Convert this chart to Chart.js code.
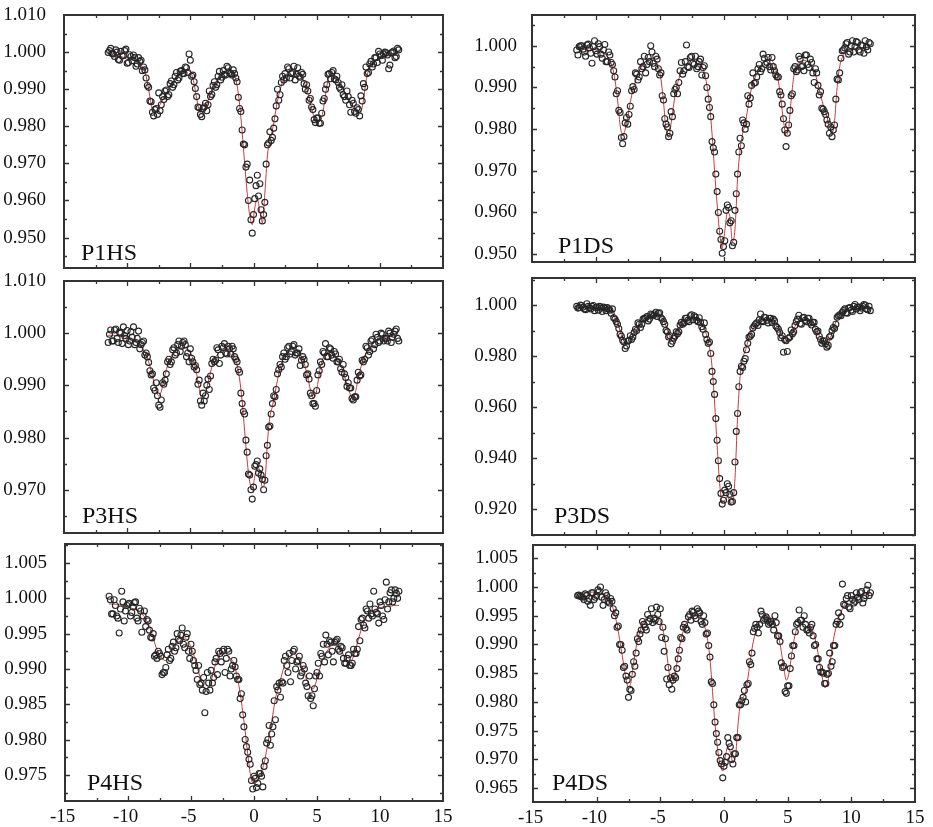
<!DOCTYPE html>
<html lang="en">
<head>
<meta charset="UTF-8">
<title>Mössbauer spectra P1-P4</title>
<script src="https://cdn.jsdelivr.net/npm/chart.js@4"></script>
<style>
  body { margin: 0; background: #fff; }
  #page { position: relative; width: 933px; height: 827px; overflow: hidden; }
  #page canvas { position: absolute; }
</style>
</head>
<body>
<div id="page"></div>
<script>
// velocity channels (mm/s), shared by all six spectra
const velocity = [
  -11.5,-11.3,-11.1,-10.9,-10.7,-10.5,-10.3,-10.1,-9.9,-9.7,
  -9.5,-9.3,-9.1,-8.9,-8.7,-8.5,-8.3,-8.1,-7.9,-7.7,
  -7.5,-7.3,-7.1,-6.9,-6.7,-6.5,-6.3,-6.1,-5.9,-5.7,
  -5.5,-5.3,-5.1,-4.9,-4.7,-4.5,-4.3,-4.1,-3.9,-3.7,
  -3.5,-3.3,-3.1,-2.9,-2.7,-2.5,-2.3,-2.1,-1.9,-1.7,
  -1.5,-1.3,-1.1,-0.9,-0.7,-0.5,-0.3,-0.1,0.1,0.3,
  0.5,0.7,0.9,1.1,1.3,1.5,1.7,1.9,2.1,2.3,
  2.5,2.7,2.9,3.1,3.3,3.5,3.7,3.9,4.1,4.3,
  4.5,4.7,4.9,5.1,5.3,5.5,5.7,5.9,6.1,6.3,
  6.5,6.7,6.9,7.1,7.3,7.5,7.7,7.9,8.1,8.3,
  8.5,8.7,8.9,9.1,9.3,9.5,9.7,9.9,10.1,10.3,
  10.5,10.7,10.9,11.1,11.3,11.5
];
// the in-between channels (second half of the folded spectrum)
const velocityMid = [
  -11.4,-11.2,-11.0,-10.8,-10.6,-10.4,-10.2,-10.0,-9.8,-9.6,
  -9.4,-9.2,-9.0,-8.8,-8.6,-8.4,-8.2,-8.0,-7.8,-7.6,
  -7.4,-7.2,-7.0,-6.8,-6.6,-6.4,-6.2,-6.0,-5.8,-5.6,
  -5.4,-5.2,-5.0,-4.8,-4.6,-4.4,-4.2,-4.0,-3.8,-3.6,
  -3.4,-3.2,-3.0,-2.8,-2.6,-2.4,-2.2,-2.0,-1.8,-1.6,
  -1.4,-1.2,-1.0,-0.8,-0.6,-0.4,-0.2,0.0,0.2,0.4,
  0.6,0.8,1.0,1.2,1.4,1.6,1.8,2.0,2.2,2.4,
  2.6,2.8,3.0,3.2,3.4,3.6,3.8,4.0,4.2,4.4,
  4.6,4.8,5.0,5.2,5.4,5.6,5.8,6.0,6.2,6.4,
  6.6,6.8,7.0,7.2,7.4,7.6,7.8,8.0,8.2,8.4,
  8.6,8.8,9.0,9.2,9.4,9.6,9.8,10.0,10.2,10.4,
  10.6,10.8,11.0,11.2,11.4
];

const xTicks = [-15, -10, -5, 0, 5, 10, 15];

// ---- P1HS ----
const p1hsTicks = [0.950, 0.960, 0.970, 0.980, 0.990, 1.000, 1.010];
const p1hsCounts = [
  0.9999,1.0010,0.9995,1.0006,0.9980,1.0002,0.9990,1.0008,0.9972,0.9988,
  0.9992,0.9962,0.9985,0.9978,0.9960,0.9930,0.9905,0.9866,0.9828,0.9848,
  0.9890,0.9858,0.9872,0.9898,0.9885,0.9922,0.9912,0.9945,0.9930,0.9950,
  0.9942,0.9958,0.9995,0.9935,0.9920,0.9880,0.9850,0.9826,0.9852,0.9842,
  0.9895,0.9886,0.9920,0.9912,0.9948,0.9932,0.9940,0.9962,0.9945,0.9938,
  0.9942,0.9920,0.9848,0.9790,0.9750,0.9698,0.9655,0.9512,0.9605,0.9668,
  0.9645,0.9545,0.9595,0.9750,0.9785,0.9770,0.9820,0.9900,0.9885,0.9935,
  0.9942,0.9960,0.9930,0.9945,0.9925,0.9958,0.9932,0.9940,0.9900,0.9895,
  0.9875,0.9845,0.9810,0.9822,0.9808,0.9868,0.9900,0.9940,0.9928,0.9950,
  0.9925,0.9918,0.9900,0.9885,0.9870,0.9880,0.9838,0.9862,0.9835,0.9845,
  0.9882,0.9915,0.9960,0.9945,0.9975,0.9968,0.9985,1.0002,0.9990,0.9995,
  0.9998,0.9955,0.9998,1.0003,0.9988,1.0006
];
const p1hsCountsMid = [
  1.0004,0.9996,0.9988,1.0000,0.9978,0.9990,1.0004,0.9970,0.9993,0.9977,
  0.9985,0.9968,0.9975,0.9950,0.9952,0.9910,0.9868,0.9838,0.9845,0.9832,
  0.9842,0.9880,0.9895,0.9880,0.9915,0.9905,0.9935,0.9925,0.9948,0.9942,
  0.9960,0.9945,0.9978,0.9938,0.9902,0.9852,0.9832,0.9848,0.9862,0.9858,
  0.9880,0.9910,0.9905,0.9935,0.9925,0.9950,0.9938,0.9958,0.9942,0.9952,
  0.9930,0.9878,0.9840,0.9752,0.9690,0.9600,0.9548,0.9562,0.9640,0.9612,
  0.9575,0.9562,0.9698,0.9755,0.9762,0.9795,0.9855,0.9870,0.9918,0.9925,
  0.9930,0.9955,0.9942,0.9962,0.9940,0.9935,0.9945,0.9915,0.9912,0.9870,
  0.9852,0.9818,0.9822,0.9808,0.9835,0.9875,0.9912,0.9942,0.9945,0.9928,
  0.9935,0.9905,0.9912,0.9880,0.9895,0.9858,0.9870,0.9840,0.9850,0.9828,
  0.9868,0.9905,0.9942,0.9968,0.9960,0.9985,0.9972,0.9995,0.9978,1.0000,
  0.9992,0.9965,1.0000,0.9985,1.0010
];
const p1hsFit = [
  0.9993,0.9992,0.9991,0.9990,0.9989,0.9988,0.9986,0.9985,0.9983,0.9981,
  0.9979,0.9976,0.9972,0.9966,0.9955,0.9935,0.9900,0.9860,0.9838,0.9840,
  0.9852,0.9865,0.9878,0.9890,0.9902,0.9913,0.9923,0.9932,0.9940,0.9946,
  0.9950,0.9952,0.9950,0.9940,0.9915,0.9875,0.9842,0.9835,0.9845,0.9860,
  0.9878,0.9895,0.9910,0.9922,0.9932,0.9940,0.9946,0.9950,0.9952,0.9950,
  0.9938,0.9910,0.9860,0.9785,0.9700,0.9620,0.9560,0.9535,0.9580,0.9605,
  0.9570,0.9540,0.9620,0.9720,0.9760,0.9790,0.9830,0.9868,0.9898,0.9920,
  0.9935,0.9944,0.9950,0.9952,0.9950,0.9946,0.9938,0.9928,0.9912,0.9890,
  0.9862,0.9835,0.9818,0.9812,0.9815,0.9840,0.9885,0.9925,0.9938,0.9938,
  0.9932,0.9922,0.9910,0.9898,0.9885,0.9872,0.9860,0.9850,0.9843,0.9838,
  0.9840,0.9870,0.9920,0.9950,0.9965,0.9974,0.9979,0.9983,0.9986,0.9988,
  0.9989,0.9990,0.9990,0.9991,0.9991,0.9991
];

// ---- P1DS ----
const p1dsTicks = [0.950, 0.960, 0.970, 0.980, 0.990, 1.000];
const p1dsCounts = [
  0.9990,0.9998,1.0000,0.9985,1.0002,0.9995,0.9958,1.0012,0.9980,0.9998,
  0.9970,1.0003,0.9962,0.9978,0.9955,0.9925,0.9892,0.9840,0.9765,0.9815,
  0.9812,0.9855,0.9902,0.9935,0.9918,0.9962,0.9950,0.9935,0.9972,1.0000,
  0.9958,0.9975,0.9945,0.9935,0.9870,0.9812,0.9782,0.9842,0.9885,0.9900,
  0.9912,0.9960,0.9940,1.0002,0.9948,0.9975,0.9955,0.9945,0.9962,0.9930,
  0.9952,0.9900,0.9852,0.9770,0.9745,0.9650,0.9555,0.9502,0.9532,0.9618,
  0.9575,0.9520,0.9605,0.9692,0.9778,0.9822,0.9800,0.9880,0.9875,0.9935,
  0.9912,0.9945,0.9938,0.9980,0.9955,0.9972,0.9942,0.9950,0.9930,0.9925,
  0.9882,0.9825,0.9758,0.9810,0.9880,0.9945,0.9938,0.9975,0.9950,0.9940,
  0.9978,0.9948,0.9960,0.9912,0.9935,0.9882,0.9850,0.9842,0.9822,0.9790,
  0.9782,0.9810,0.9920,0.9935,0.9988,0.9995,1.0008,0.9985,1.0012,0.9998,
  1.0008,0.9985,1.0000,1.0012,0.9990,1.0005
];
const p1dsCountsMid = [
  0.9978,1.0000,0.9992,0.9975,1.0004,0.9982,0.9998,0.9988,1.0005,0.9980,
  0.9990,0.9962,0.9985,0.9960,0.9940,0.9885,0.9845,0.9780,0.9782,0.9828,
  0.9835,0.9892,0.9895,0.9932,0.9925,0.9945,0.9975,0.9955,0.9962,0.9985,
  0.9950,0.9968,0.9930,0.9880,0.9825,0.9805,0.9790,0.9830,0.9895,0.9885,
  0.9940,0.9932,0.9962,0.9950,0.9972,0.9958,0.9975,0.9950,0.9968,0.9948,
  0.9928,0.9872,0.9830,0.9755,0.9692,0.9600,0.9535,0.9518,0.9605,0.9612,
  0.9580,0.9528,0.9645,0.9745,0.9760,0.9815,0.9812,0.9860,0.9905,0.9910,
  0.9925,0.9955,0.9945,0.9970,0.9960,0.9950,0.9972,0.9940,0.9925,0.9890,
  0.9860,0.9798,0.9790,0.9845,0.9885,0.9950,0.9942,0.9968,0.9952,0.9978,
  0.9955,0.9968,0.9935,0.9945,0.9905,0.9890,0.9848,0.9835,0.9812,0.9805,
  0.9798,0.9872,0.9918,0.9970,0.9990,1.0005,0.9980,1.0000,0.9985,1.0010,
  0.9990,1.0002,0.9982,0.9998,1.0008
];
const p1dsFit = [
  0.9994,0.9994,0.9994,0.9993,0.9993,0.9993,0.9992,0.9991,0.9990,0.9988,
  0.9985,0.9981,0.9975,0.9965,0.9948,0.9918,0.9870,0.9810,0.9785,0.9800,
  0.9830,0.9865,0.9893,0.9915,0.9932,0.9946,0.9956,0.9963,0.9968,0.9970,
  0.9969,0.9964,0.9950,0.9920,0.9865,0.9800,0.9780,0.9815,0.9860,0.9895,
  0.9920,0.9938,0.9950,0.9958,0.9963,0.9966,0.9967,0.9966,0.9962,0.9952,
  0.9935,0.9905,0.9860,0.9790,0.9700,0.9620,0.9550,0.9515,0.9555,0.9600,
  0.9590,0.9530,0.9560,0.9680,0.9750,0.9790,0.9812,0.9850,0.9885,0.9908,
  0.9925,0.9940,0.9952,0.9960,0.9965,0.9967,0.9966,0.9960,0.9945,0.9915,
  0.9870,0.9820,0.9785,0.9800,0.9870,0.9925,0.9950,0.9960,0.9964,0.9965,
  0.9964,0.9960,0.9952,0.9940,0.9920,0.9895,0.9870,0.9850,0.9830,0.9808,
  0.9790,0.9820,0.9900,0.9950,0.9972,0.9982,0.9987,0.9990,0.9992,0.9993,
  0.9994,0.9994,0.9995,0.9995,0.9995,0.9995
];

// ---- P3HS ----
const p3hsTicks = [0.970, 0.980, 0.990, 1.000, 1.010];
const p3hsCounts = [
  0.9982,1.0006,0.9985,1.0008,0.9982,1.0000,1.0012,0.9990,0.9978,1.0003,
  1.0012,0.9982,1.0004,0.9978,0.9985,0.9962,0.9944,0.9920,0.9895,0.9905,
  0.9862,0.9872,0.9902,0.9922,0.9950,0.9945,0.9972,0.9962,0.9985,0.9975,
  0.9985,0.9955,0.9945,0.9952,0.9935,0.9930,0.9910,0.9862,0.9870,0.9900,
  0.9892,0.9942,0.9945,0.9972,0.9942,0.9975,0.9980,0.9960,0.9970,0.9975,
  0.9955,0.9945,0.9925,0.9865,0.9845,0.9772,0.9728,0.9682,0.9745,0.9755,
  0.9740,0.9720,0.9718,0.9785,0.9822,0.9865,0.9878,0.9922,0.9940,0.9955,
  0.9950,0.9972,0.9960,0.9975,0.9958,0.9962,0.9938,0.9955,0.9940,0.9922,
  0.9885,0.9865,0.9860,0.9920,0.9945,0.9965,0.9980,0.9955,0.9970,0.9952,
  0.9960,0.9945,0.9932,0.9940,0.9915,0.9905,0.9895,0.9872,0.9878,0.9925,
  0.9920,0.9945,0.9975,0.9958,0.9985,0.9970,0.9998,0.9982,1.0000,0.9985,
  0.9990,1.0004,0.9982,0.9998,1.0008,0.9985
];
const p3hsCountsMid = [
  0.9998,0.9985,1.0006,0.9990,1.0002,0.9980,0.9995,1.0005,0.9985,0.9992,
  0.9978,0.9990,0.9970,0.9982,0.9958,0.9955,0.9928,0.9922,0.9890,0.9880,
  0.9858,0.9905,0.9910,0.9945,0.9940,0.9968,0.9958,0.9978,0.9965,0.9982,
  0.9978,0.9962,0.9970,0.9945,0.9938,0.9902,0.9870,0.9885,0.9880,0.9912,
  0.9918,0.9950,0.9948,0.9968,0.9958,0.9972,0.9962,0.9975,0.9960,0.9970,
  0.9950,0.9930,0.9885,0.9850,0.9795,0.9730,0.9700,0.9705,0.9748,0.9732,
  0.9728,0.9700,0.9765,0.9820,0.9845,0.9880,0.9892,0.9930,0.9935,0.9962,
  0.9955,0.9975,0.9965,0.9978,0.9962,0.9970,0.9948,0.9950,0.9920,0.9912,
  0.9880,0.9865,0.9890,0.9928,0.9940,0.9962,0.9955,0.9972,0.9958,0.9965,
  0.9945,0.9950,0.9925,0.9922,0.9898,0.9895,0.9875,0.9878,0.9910,0.9918,
  0.9948,0.9950,0.9972,0.9965,0.9988,0.9978,0.9992,0.9985,0.9998,0.9990,
  0.9985,1.0000,0.9992,1.0004,0.9990
];
const p3hsFit = [
  0.9996,0.9996,0.9996,0.9995,0.9995,0.9995,0.9994,0.9993,0.9992,0.9990,
  0.9988,0.9985,0.9981,0.9975,0.9968,0.9958,0.9945,0.9928,0.9908,0.9890,
  0.9880,0.9888,0.9910,0.9930,0.9945,0.9956,0.9963,0.9968,0.9971,0.9972,
  0.9972,0.9970,0.9966,0.9958,0.9944,0.9922,0.9895,0.9876,0.9878,0.9895,
  0.9915,0.9935,0.9950,0.9958,0.9963,0.9966,0.9968,0.9968,0.9967,0.9964,
  0.9955,0.9940,0.9912,0.9870,0.9812,0.9755,0.9715,0.9700,0.9725,0.9745,
  0.9735,0.9705,0.9715,0.9790,0.9840,0.9860,0.9885,0.9910,0.9932,0.9948,
  0.9958,0.9965,0.9969,0.9971,0.9970,0.9966,0.9960,0.9950,0.9935,0.9915,
  0.9892,0.9876,0.9880,0.9905,0.9935,0.9952,0.9960,0.9963,0.9963,0.9960,
  0.9955,0.9948,0.9938,0.9925,0.9910,0.9895,0.9880,0.9876,0.9890,0.9915,
  0.9935,0.9950,0.9962,0.9970,0.9976,0.9981,0.9985,0.9988,0.9990,0.9992,
  0.9993,0.9994,0.9995,0.9995,0.9996,0.9996
];

// ---- P3DS ----
const p3dsTicks = [0.920, 0.940, 0.960, 0.980, 1.000];
const p3dsCounts = [
  0.9995,0.9990,0.9998,0.9985,1.0005,0.9990,0.9995,0.9978,0.9992,0.9995,
  0.9975,0.9988,0.9990,0.9980,0.9985,0.9945,0.9925,0.9885,0.9862,0.9830,
  0.9858,0.9880,0.9875,0.9905,0.9930,0.9912,0.9945,0.9950,0.9938,0.9965,
  0.9958,0.9972,0.9968,0.9950,0.9935,0.9900,0.9875,0.9848,0.9870,0.9895,
  0.9895,0.9932,0.9930,0.9948,0.9935,0.9962,0.9958,0.9940,0.9950,0.9915,
  0.9930,0.9865,0.9855,0.9740,0.9650,0.9470,0.9320,0.9220,0.9275,0.9300,
  0.9258,0.9230,0.9385,0.9575,0.9740,0.9755,0.9790,0.9850,0.9878,0.9910,
  0.9925,0.9920,0.9965,0.9935,0.9950,0.9930,0.9948,0.9945,0.9918,0.9905,
  0.9872,0.9815,0.9860,0.9870,0.9902,0.9895,0.9935,0.9960,0.9925,0.9952,
  0.9935,0.9948,0.9922,0.9932,0.9895,0.9878,0.9850,0.9860,0.9835,0.9875,
  0.9900,0.9908,0.9952,0.9962,0.9972,0.9985,0.9968,0.9990,0.9975,1.0002,
  0.9992,0.9978,0.9995,1.0000,0.9982,0.9978
];
const p3dsCountsMid = [
  0.9988,1.0000,0.9992,0.9982,0.9995,0.9985,0.9998,0.9990,0.9980,0.9988,
  0.9992,0.9978,0.9985,0.9968,0.9950,0.9935,0.9908,0.9878,0.9855,0.9840,
  0.9862,0.9865,0.9892,0.9900,0.9925,0.9925,0.9948,0.9955,0.9945,0.9962,
  0.9965,0.9955,0.9970,0.9945,0.9925,0.9895,0.9880,0.9858,0.9878,0.9888,
  0.9922,0.9925,0.9948,0.9940,0.9958,0.9942,0.9952,0.9935,0.9932,0.9905,
  0.9885,0.9850,0.9810,0.9700,0.9555,0.9390,0.9262,0.9235,0.9265,0.9290,
  0.9228,0.9265,0.9505,0.9680,0.9760,0.9780,0.9825,0.9875,0.9885,0.9918,
  0.9930,0.9942,0.9938,0.9952,0.9940,0.9948,0.9932,0.9938,0.9912,0.9892,
  0.9880,0.9865,0.9818,0.9875,0.9888,0.9920,0.9945,0.9928,0.9950,0.9940,
  0.9948,0.9930,0.9932,0.9905,0.9898,0.9865,0.9858,0.9848,0.9842,0.9880,
  0.9912,0.9925,0.9958,0.9958,0.9978,0.9970,0.9988,0.9980,0.9995,0.9985,
  0.9992,0.9988,1.0002,0.9985,0.9995
];
const p3dsFit = [
  0.9990,0.9990,0.9990,0.9989,0.9989,0.9989,0.9988,0.9988,0.9987,0.9986,
  0.9985,0.9983,0.9980,0.9975,0.9966,0.9952,0.9930,0.9900,0.9870,0.9850,
  0.9848,0.9862,0.9880,0.9898,0.9913,0.9926,0.9937,0.9945,0.9952,0.9957,
  0.9960,0.9961,0.9960,0.9955,0.9942,0.9918,0.9888,0.9865,0.9862,0.9880,
  0.9905,0.9925,0.9937,0.9944,0.9948,0.9949,0.9948,0.9944,0.9936,0.9920,
  0.9905,0.9878,0.9835,0.9760,0.9620,0.9450,0.9300,0.9225,0.9235,0.9250,
  0.9235,0.9225,0.9320,0.9560,0.9720,0.9790,0.9820,0.9855,0.9885,0.9905,
  0.9920,0.9932,0.9940,0.9943,0.9944,0.9943,0.9941,0.9936,0.9926,0.9910,
  0.9888,0.9865,0.9850,0.9858,0.9880,0.9905,0.9925,0.9936,0.9941,0.9943,
  0.9943,0.9940,0.9932,0.9920,0.9902,0.9880,0.9860,0.9845,0.9843,0.9860,
  0.9890,0.9920,0.9945,0.9960,0.9968,0.9974,0.9978,0.9981,0.9984,0.9986,
  0.9987,0.9988,0.9989,0.9989,0.9990,0.9990
];

// ---- P4HS ----
const p4hsTicks = [0.975, 0.980, 0.985, 0.990, 0.995, 1.000, 1.005];
const p4hsCounts = [
  1.0003,0.9978,0.9998,0.9975,0.9951,1.0010,0.9968,0.9990,0.9993,0.9980,
  0.9994,0.9972,0.9986,0.9952,0.9982,0.9970,0.9955,0.9944,0.9918,0.9915,
  0.9922,0.9892,0.9895,0.9920,0.9912,0.9932,0.9925,0.9950,0.9940,0.9958,
  0.9930,0.9950,0.9915,0.9925,0.9905,0.9885,0.9878,0.9870,0.9838,0.9895,
  0.9870,0.9880,0.9910,0.9892,0.9922,0.9925,0.9895,0.9928,0.9890,0.9905,
  0.9903,0.9885,0.9858,0.9835,0.9800,0.9782,0.9765,0.9730,0.9745,0.9738,
  0.9752,0.9733,0.9770,0.9800,0.9792,0.9818,0.9828,0.9870,0.9860,0.9880,
  0.9918,0.9895,0.9882,0.9925,0.9900,0.9912,0.9890,0.9905,0.9880,0.9862,
  0.9858,0.9848,0.9890,0.9908,0.9922,0.9935,0.9948,0.9920,0.9938,0.9910,
  0.9940,0.9928,0.9932,0.9915,0.9908,0.9920,0.9905,0.9928,0.9922,0.9960,
  0.9970,0.9962,0.9985,0.9972,0.9978,1.0010,0.9980,0.9965,0.9990,0.9970,
  1.0023,0.9995,1.0012,1.0000,1.0007,1.0010
];
const p4hsCountsMid = [
  0.9998,0.9978,0.9990,0.9972,0.9985,0.9995,0.9982,0.9992,0.9975,0.9988,
  0.9995,0.9968,0.9982,0.9975,0.9960,0.9968,0.9945,0.9950,0.9920,0.9925,
  0.9918,0.9895,0.9902,0.9928,0.9915,0.9938,0.9930,0.9942,0.9948,0.9935,
  0.9945,0.9925,0.9935,0.9912,0.9898,0.9905,0.9880,0.9888,0.9868,0.9880,
  0.9898,0.9888,0.9915,0.9925,0.9910,0.9928,0.9915,0.9925,0.9900,0.9912,
  0.9890,0.9885,0.9865,0.9818,0.9790,0.9772,0.9742,0.9748,0.9732,0.9752,
  0.9748,0.9762,0.9795,0.9820,0.9808,0.9855,0.9875,0.9880,0.9882,0.9912,
  0.9905,0.9922,0.9912,0.9928,0.9910,0.9918,0.9895,0.9900,0.9875,0.9890,
  0.9862,0.9872,0.9895,0.9890,0.9918,0.9910,0.9935,0.9940,0.9925,0.9938,
  0.9942,0.9925,0.9930,0.9908,0.9915,0.9905,0.9908,0.9922,0.9928,0.9940,
  0.9972,0.9958,0.9982,0.9992,0.9975,0.9985,0.9978,0.9995,0.9975,0.9998,
  0.9985,1.0008,0.9995,1.0012,1.0000
];
const p4hsFit = [
  0.9992,0.9992,0.9992,0.9991,0.9991,0.9990,0.9989,0.9988,0.9987,0.9986,
  0.9985,0.9983,0.9981,0.9978,0.9974,0.9968,0.9960,0.9950,0.9938,0.9927,
  0.9920,0.9915,0.9912,0.9913,0.9918,0.9926,0.9934,0.9940,0.9943,0.9944,
  0.9944,0.9941,0.9935,0.9926,0.9915,0.9902,0.9890,0.9880,0.9873,0.9872,
  0.9877,0.9890,0.9904,0.9914,0.9920,0.9922,0.9922,0.9919,0.9915,0.9912,
  0.9902,0.9886,0.9866,0.9840,0.9812,0.9780,0.9752,0.9738,0.9738,0.9743,
  0.9750,0.9760,0.9775,0.9795,0.9815,0.9836,0.9858,0.9872,0.9885,0.9898,
  0.9908,0.9915,0.9919,0.9921,0.9920,0.9915,0.9907,0.9898,0.9888,0.9880,
  0.9873,0.9872,0.9880,0.9893,0.9905,0.9915,0.9922,0.9928,0.9932,0.9934,
  0.9934,0.9932,0.9927,0.9920,0.9912,0.9907,0.9910,0.9918,0.9930,0.9943,
  0.9955,0.9965,0.9973,0.9978,0.9981,0.9983,0.9985,0.9986,0.9987,0.9988,
  0.9988,0.9989,0.9989,0.9990,0.9990,0.9990
];

// ---- P4DS ----
const p4dsTicks = [0.965, 0.970, 0.975, 0.980, 0.985, 0.990, 0.995, 1.000, 1.005];
const p4dsCounts = [
  0.9985,0.9984,0.9982,0.9988,0.9975,0.9968,0.9990,0.9982,0.9995,1.0000,
  0.9968,0.9990,0.9975,0.9980,0.9962,0.9955,0.9932,0.9900,0.9860,0.9845,
  0.9808,0.9820,0.9870,0.9885,0.9905,0.9925,0.9935,0.9925,0.9940,0.9962,
  0.9945,0.9965,0.9940,0.9912,0.9888,0.9840,0.9830,0.9822,0.9845,0.9858,
  0.9890,0.9910,0.9935,0.9925,0.9952,0.9958,0.9950,0.9962,0.9955,0.9935,
  0.9938,0.9920,0.9878,0.9832,0.9765,0.9730,0.9698,0.9668,0.9695,0.9738,
  0.9722,0.9692,0.9710,0.9738,0.9795,0.9808,0.9800,0.9832,0.9865,0.9922,
  0.9935,0.9920,0.9958,0.9942,0.9948,0.9935,0.9940,0.9925,0.9938,0.9915,
  0.9868,0.9862,0.9815,0.9828,0.9880,0.9898,0.9935,0.9960,0.9942,0.9950,
  0.9925,0.9920,0.9935,0.9898,0.9875,0.9860,0.9852,0.9832,0.9848,0.9885,
  0.9870,0.9898,0.9940,0.9935,1.0005,0.9968,0.9985,0.9962,0.9978,0.9975,
  0.9982,0.9990,0.9972,0.9985,1.0003,0.9990
];
const p4dsCountsMid = [
  0.9986,0.9983,0.9978,0.9985,0.9980,0.9990,0.9978,0.9985,0.9992,0.9982,
  0.9978,0.9985,0.9972,0.9975,0.9950,0.9930,0.9900,0.9890,0.9862,0.9838,
  0.9822,0.9848,0.9862,0.9910,0.9918,0.9940,0.9930,0.9952,0.9945,0.9938,
  0.9942,0.9952,0.9962,0.9930,0.9910,0.9860,0.9842,0.9838,0.9842,0.9875,
  0.9912,0.9930,0.9928,0.9948,0.9942,0.9956,0.9945,0.9958,0.9940,0.9950,
  0.9918,0.9898,0.9835,0.9795,0.9745,0.9712,0.9692,0.9688,0.9705,0.9728,
  0.9700,0.9710,0.9738,0.9795,0.9802,0.9820,0.9830,0.9870,0.9885,0.9928,
  0.9930,0.9935,0.9952,0.9945,0.9942,0.9938,0.9935,0.9950,0.9915,0.9905,
  0.9860,0.9818,0.9828,0.9858,0.9898,0.9922,0.9938,0.9942,0.9930,0.9935,
  0.9925,0.9930,0.9915,0.9900,0.9875,0.9852,0.9850,0.9832,0.9850,0.9862,
  0.9898,0.9935,0.9955,0.9948,0.9970,0.9980,0.9965,0.9985,0.9972,0.9990,
  0.9978,0.9992,0.9980,0.9995,0.9985
];
const p4dsFit = [
  0.9988,0.9989,0.9990,0.9990,0.9991,0.9991,0.9991,0.9990,0.9990,0.9989,
  0.9988,0.9986,0.9982,0.9975,0.9962,0.9945,0.9922,0.9895,0.9868,0.9840,
  0.9825,0.9835,0.9868,0.9895,0.9915,0.9930,0.9940,0.9946,0.9949,0.9951,
  0.9951,0.9950,0.9946,0.9935,0.9915,0.9885,0.9850,0.9832,0.9840,0.9868,
  0.9895,0.9915,0.9930,0.9940,0.9946,0.9950,0.9951,0.9950,0.9947,0.9942,
  0.9930,0.9910,0.9875,0.9818,0.9760,0.9718,0.9690,0.9680,0.9705,0.9722,
  0.9712,0.9695,0.9705,0.9760,0.9800,0.9808,0.9818,0.9845,0.9878,0.9905,
  0.9922,0.9935,0.9944,0.9950,0.9951,0.9950,0.9946,0.9940,0.9930,0.9912,
  0.9888,0.9858,0.9838,0.9850,0.9880,0.9908,0.9926,0.9935,0.9939,0.9940,
  0.9939,0.9935,0.9928,0.9915,0.9895,0.9870,0.9845,0.9825,0.9828,0.9860,
  0.9895,0.9920,0.9938,0.9952,0.9962,0.9970,0.9975,0.9979,0.9982,0.9984,
  0.9985,0.9986,0.9987,0.9988,0.9989,0.9990
];

// layout: plot box in page pixels [left, top, right, bottom]
const AXIS_W = 64, PAD = 25;
const panels = [
  { name: 'P1HS', counts: p1hsCounts, mid: p1hsCountsMid, fit: p1hsFit, ticks: p1hsTicks, min: 0.9418, max: 1.0100, box: [64, 15, 443, 268],  gap: 10, label: [17, 8],  xLabels: false },
  { name: 'P1DS', counts: p1dsCounts, mid: p1dsCountsMid, fit: p1dsFit, ticks: p1dsTicks, min: 0.9481, max: 1.0074, box: [532, 15, 915, 262], gap: 7,  label: [26, 9],  xLabels: false },
  { name: 'P3HS', counts: p3hsCounts, mid: p3hsCountsMid, fit: p3hsFit, ticks: p3hsTicks, min: 0.9617, max: 1.0100, box: [64, 281, 443, 533], gap: 10, label: [18, 10], xLabels: false },
  { name: 'P3DS', counts: p3dsCounts, mid: p3dsCountsMid, fit: p3dsFit, ticks: p3dsTicks, min: 0.9099, max: 1.0106, box: [532, 278, 915, 535], gap: 7,  label: [22, 12], xLabels: false },
  { name: 'P4HS', counts: p4hsCounts, mid: p4hsCountsMid, fit: p4hsFit, ticks: p4hsTicks, min: 0.9713, max: 1.0077, box: [65, 544, 443, 801], gap: 10, label: [22, 11], xLabels: true },
  { name: 'P4DS', counts: p4dsCounts, mid: p4dsCountsMid, fit: p4dsFit, ticks: p4dsTicks, min: 0.9626, max: 1.0073, box: [533, 545, 915, 802], gap: 7,  label: [19, 12], xLabels: true }
];

const INK = '#333';
const serif = '"Liberation Serif", "Times New Roman", serif';

// frame, inward ticks on all four sides and the sample name
const frameTicks = {
  id: 'frameTicks',
  afterDraw(chart, args, opts) {
    const { ctx, chartArea: a, scales: { x, y } } = chart;
    const mids = v => v.slice(1).map((t, i) => (t + v[i]) / 2);
    const yStep = opts.ticks[1] - opts.ticks[0];
    const yMinor = mids(opts.ticks)
      .concat([opts.ticks[0] - yStep / 2, opts.ticks[opts.ticks.length - 1] + yStep / 2])
      .filter(v => v > y.min && v < y.max);
    const xMinor = mids(xTicks);
    ctx.save();
    ctx.strokeStyle = INK;
    ctx.lineWidth = 1.3;
    ctx.beginPath();
    const hTick = (v, len) => {
      const py = Math.round(y.getPixelForValue(v)) + 0.5;
      ctx.moveTo(a.left, py); ctx.lineTo(a.left + len, py);
      ctx.moveTo(a.right, py); ctx.lineTo(a.right - len, py);
    };
    const vTick = (v, len) => {
      const px = Math.round(x.getPixelForValue(v)) + 0.5;
      ctx.moveTo(px, a.top); ctx.lineTo(px, a.top + len);
      ctx.moveTo(px, a.bottom); ctx.lineTo(px, a.bottom - len);
    };
    opts.ticks.forEach(v => { if (v > y.min && v < y.max) hTick(v, 5); });
    yMinor.forEach(v => hTick(v, 3));
    xTicks.slice(1, -1).forEach(v => vTick(v, 5));
    xMinor.forEach(v => vTick(v, 3));
    ctx.stroke();
    ctx.lineWidth = 2;
    ctx.strokeRect(a.left, a.top, a.right - a.left, a.bottom - a.top);
    ctx.fillStyle = '#111';
    ctx.font = '24px ' + serif;
    ctx.textBaseline = 'alphabetic';
    ctx.fillText(opts.name, a.left + opts.label[0], a.bottom - opts.label[1]);
    ctx.restore();
  }
};

const page = document.getElementById('page');

panels.forEach(p => {
  const [l, t, r, b] = p.box;
  const bottomH = p.xLabels ? 26 : PAD;
  const canvas = document.createElement('canvas');
  canvas.width = AXIS_W + (r - l) + PAD;
  canvas.height = PAD + (b - t) + bottomH;
  canvas.style.left = (l - AXIS_W) + 'px';
  canvas.style.top = (t - PAD) + 'px';
  page.appendChild(canvas);

  const points = velocity.map((v, i) => ({ x: v, y: p.counts[i] }))
    .concat(velocityMid.map((v, i) => ({ x: v, y: p.mid[i] })));

  new Chart(canvas, {
    type: 'scatter',
    data: {
      datasets: [
        {
          label: p.name + ' data',
          data: points,
          pointRadius: 3,
          pointBorderWidth: 1.1,
          pointBorderColor: '#262626',
          pointBackgroundColor: 'rgba(255,255,255,0)',
          showLine: false
        },
        {
          label: p.name + ' fit',
          data: velocity.map((v, i) => ({ x: v, y: p.fit[i] })),
          showLine: true,
          borderColor: '#cc3a3a',
          borderWidth: 1,
          pointRadius: 0,
          cubicInterpolationMode: 'monotone'
        }
      ]
    },
    options: {
      responsive: false,
      animation: false,
      devicePixelRatio: 1,
      layout: { padding: { top: PAD, right: PAD, left: 0, bottom: 0 } },
      plugins: {
        legend: { display: false },
        tooltip: { enabled: false },
        frameTicks: { ticks: p.ticks, name: p.name, label: p.label }
      },
      scales: {
        x: {
          type: 'linear', min: -15, max: 15,
          grid: { display: false }, border: { display: false },
          ticks: {
            display: p.xLabels, padding: -3, maxRotation: 0,
            color: '#111', font: { family: serif, size: 19 },
            callback: v => v < 0 ? v + ' ' : String(v)
          },
          afterBuildTicks: s => { s.ticks = xTicks.map(v => ({ value: v })); },
          afterFit: s => { s.height = bottomH; }
        },
        y: {
          type: 'linear', min: p.min, max: p.max,
          grid: { display: false }, border: { display: false },
          ticks: {
            padding: p.gap, color: '#111', font: { family: serif, size: 19 },
            callback: v => v.toFixed(3)
          },
          afterBuildTicks: s => { s.ticks = p.ticks.map(v => ({ value: v })); },
          afterFit: s => { s.height = s.height; s.width = AXIS_W; }
        }
      }
    },
    plugins: [frameTicks]
  });
});
</script>
</body>
</html>
